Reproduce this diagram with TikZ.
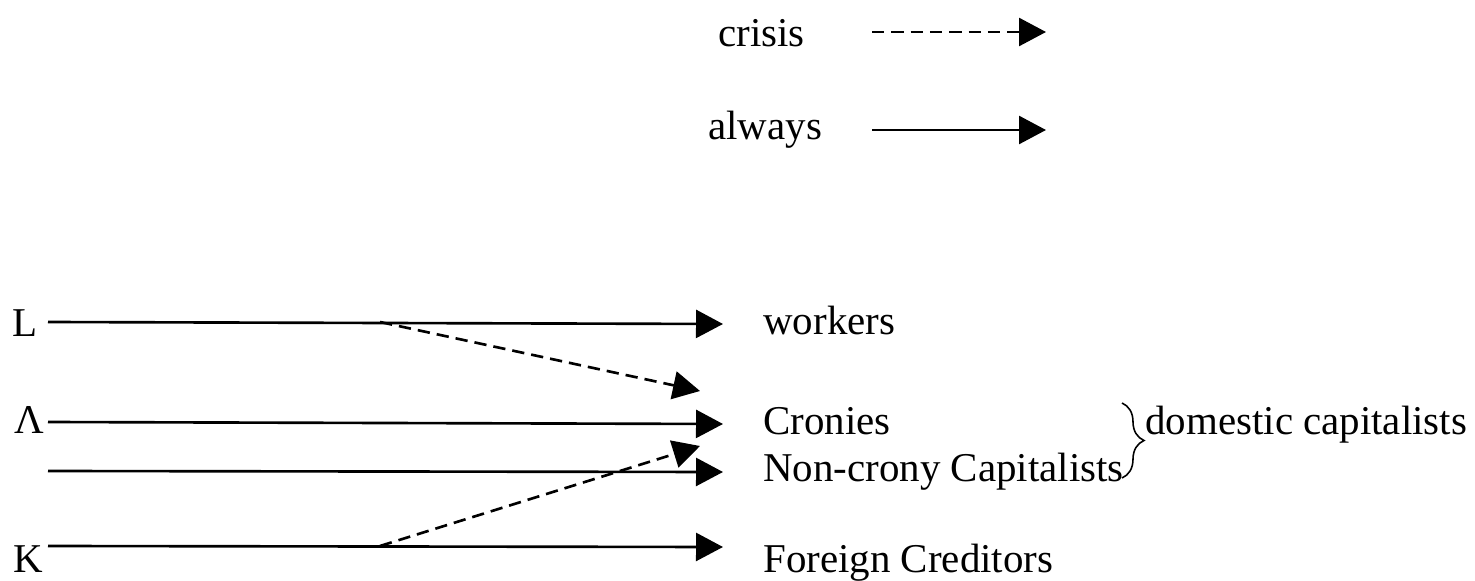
\documentclass[tikz,border=0pt]{standalone}
\usepackage{fontspec}
\setmainfont{Liberation Serif}
\usetikzlibrary{arrows.meta,decorations.pathreplacing}

\begin{document}
\begin{tikzpicture}[x=0.02cm,y=-0.02cm,
        flow/.style={line width=1.5pt,-{Triangle[length=0.54cm,width=0.56cm]}},
        crisisflow/.style={flow,dash pattern=on 7pt off 4pt},
        lbl/.style={anchor=base west,inner sep=0pt,font=\fontsize{23.3}{28}\selectfont}]

        \useasboundingbox (0,0) rectangle (1475,581);

        % Legend
        \node[lbl] (crisis) at (718,47) {crisis};
        \node[lbl] (always) at (708,140) {always};
        \coordinate (crisisA) at (872,32);
        \coordinate (crisisB) at (1046,32);
        \coordinate (alwaysA) at (872,130);
        \coordinate (alwaysB) at (1046,130);
        \draw[crisisflow] (crisisA) -- (crisisB);
        \draw[flow] (alwaysA) -- (alwaysB);

        % Factors
        \node[lbl] (L) at (12,336) {L};
        \node[lbl] (Lam) at (14,433) {Λ};
        \node[lbl] (K) at (13,572) {K};

        % Recipients
        \node[lbl] (workers) at (763,334) {workers};
        \node[lbl] (cronies) at (763,434) {Cronies};
        \node[lbl] (noncrony) at (763,481) {Non-crony Capitalists};
        \node[lbl] (foreign) at (763,572) {Foreign Creditors};

        % Start and end of the flows
        \coordinate (Ls) at (48,322);
        \coordinate (Lams) at (48,422);
        \coordinate (Ns) at (48,471);
        \coordinate (Ks) at (48,546);
        \coordinate (Le) at (723,324);
        \coordinate (Lame) at (723,424);
        \coordinate (Ne) at (723,472);
        \coordinate (Ke) at (723,547);
        \coordinate (Lm) at (380,322);
        \coordinate (Km) at (380,546);
        \coordinate (toCronies) at (700,391);
        \coordinate (toNoncrony) at (700,446);

        % Always
        \draw[flow] (Ls) -- (Le);
        \draw[flow] (Lams) -- (Lame);
        \draw[flow] (Ns) -- (Ne);
        \draw[flow] (Ks) -- (Ke);

        % Crisis
        \draw[crisisflow] (Lm) -- (toCronies);
        \draw[crisisflow] (Km) -- (toNoncrony);

        % Brace
        \coordinate (braceTop) at (1122,403);
        \coordinate (braceBot) at (1122,478);
        \draw[line width=0.9pt,decorate,decoration={brace,amplitude=0.44cm}]
            (braceTop) -- (braceBot);
        \node[lbl] (domestic) at (1145,434) {domestic capitalists};

    \end{tikzpicture}
\end{document}
